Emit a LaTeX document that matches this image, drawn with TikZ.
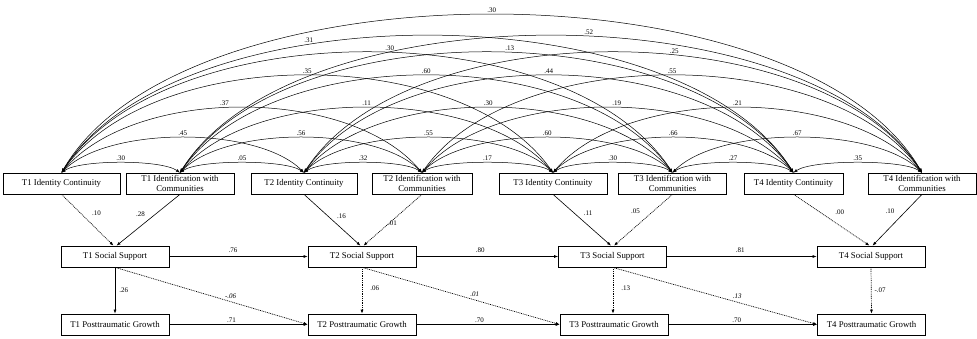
\documentclass[tikz,border=0pt]{standalone}
\usepackage{fontspec}
\setmainfont{Liberation Serif}
\usepackage{tikz}
\usetikzlibrary{arrows.meta}

\tikzset{
  box/.style={draw,line width=.7pt,minimum width=108pt,minimum height=21pt,
    inner sep=1pt,align=center,font=\fontsize{8.8}{10}\selectfont},
  coef/.style={font=\fontsize{7}{8}\selectfont,inner sep=1pt},
  coefit/.style={coef,font=\fontsize{7}{8}\selectfont\itshape},
  reg/.style={->,line width=.6pt},
  nsreg/.style={reg,line width=.7pt,dash pattern=on .9pt off .9pt},
  cov/.style={<->,line width=.5pt},
  bow1/.style={out=35,in=145,distance=23pt},
  bow2/.style={out=45,in=135,distance=66pt},
  bow3/.style={out=50,in=130,distance=113pt},
  bow4/.style={out=55,in=125,distance=158pt},
  bow5/.style={out=57,in=123,distance=191pt},
  bow6/.style={out=58,in=122,distance=215pt},
  bow7/.style={out=60,in=120,distance=243pt}
}

\begin{document}
\begin{tikzpicture}[x=1pt,y=1pt,>={Latex[length=4pt,width=3pt]}]
\useasboundingbox (0,0) rectangle (977,-338);

% predictors
\node at (61.5,-183.5) [box,minimum width=117pt] (IC1) {T1 Identity Continuity};
\node at (180,-183.5) [box] (IdC1) {T1 Identification with\\Communities};
\node at (304,-183.5) [box,minimum width=106pt] (IC2) {T2 Identity Continuity};
\node at (422,-183.5) [box,minimum width=100pt] (IdC2) {T2 Identification with\\Communities};
\node at (553,-183.5) [box] (IC3) {T3 Identity Continuity};
\node at (672.5,-183.5) [box] (IdC3) {T3 Identification with\\Communities};
\node at (793.5,-183.5) [box,minimum width=99pt] (IC4) {T4 Identity Continuity};
\node at (922,-183.5) [box] (IdC4) {T4 Identification with\\Communities};

% social support
\node at (115,-256.5) [box] (SS1) {T1 Social Support};
\node at (362,-256.5) [box] (SS2) {T2 Social Support};
\node at (612.5,-256.5) [box] (SS3) {T3 Social Support};
\node at (871,-256.5) [box] (SS4) {T4 Social Support};

% growth
\node at (115,-324.5) [box] (PTG1) {T1 Posttraumatic Growth};
\node at (362,-324.5) [box] (PTG2) {T2 Posttraumatic Growth};
\node at (614,-324.5) [box] (PTG3) {T3 Posttraumatic Growth};
\node at (871.5,-324.5) [box] (PTG4) {T4 Posttraumatic Growth};

% covariances
\draw[cov] (IC1.north) to[bow1] node[coef,pos=.5,above=1pt] {.30} (IdC1.north);
\draw[cov] (IdC1.north) to[bow1] node[coef,pos=.5,above=1pt] {.05} (IC2.north);
\draw[cov] (IC2.north) to[bow1] node[coef,pos=.5,above=1pt] {.32} (IdC2.north);
\draw[cov] (IdC2.north) to[bow1] node[coef,pos=.5,above=1pt] {.17} (IC3.north);
\draw[cov] (IC3.north) to[bow1] node[coef,pos=.5,above=1pt] {.30} (IdC3.north);
\draw[cov] (IdC3.north) to[bow1] node[coef,pos=.5,above=1pt] {.27} (IC4.north);
\draw[cov] (IC4.north) to[bow1] node[coef,pos=.5,above=1pt] {.35} (IdC4.north);
\draw[cov] (IC1.north) to[bow2] node[coef,pos=.5,above=1pt] {.45} (IC2.north);
\draw[cov] (IdC1.north) to[bow2] node[coef,pos=.5,above=1pt] {.56} (IdC2.north);
\draw[cov] (IC2.north) to[bow2] node[coef,pos=.5,above=1pt] {.55} (IC3.north);
\draw[cov] (IdC2.north) to[bow2] node[coef,pos=.5,above=1pt] {.60} (IdC3.north);
\draw[cov] (IC3.north) to[bow2] node[coef,pos=.5,above=1pt] {.66} (IC4.north);
\draw[cov] (IdC3.north) to[bow2] node[coef,pos=.5,above=1pt] {.67} (IdC4.north);
\draw[cov] (IC1.north) to[bow3] node[coef,pos=.46,above=1pt] {.37} (IdC2.north);
\draw[cov] (IdC1.north) to[bow3] node[coef,pos=.5,above=1pt] {.11} (IC3.north);
\draw[cov] (IC2.north) to[bow3] node[coef,pos=.5,above=1pt] {.30} (IdC3.north);
\draw[cov] (IdC2.north) to[bow3] node[coef,pos=.52,above=1pt] {.19} (IC4.north);
\draw[cov] (IC3.north) to[bow3] node[coef,pos=.5,above=1pt] {.21} (IdC4.north);
\draw[cov] (IC1.north) to[bow4] node[coef,pos=.5,above=1pt] {.35} (IC3.north);
\draw[cov] (IdC1.north) to[bow4] node[coef,pos=.5,above=1pt] {.60} (IdC3.north);
\draw[cov] (IC2.north) to[bow4] node[coef,pos=.5,above=1pt] {.44} (IC4.north);
\draw[cov] (IdC2.north) to[bow4] node[coef,pos=.5,above=1pt] {.55} (IdC4.north);
\draw[cov] (IC1.north) to[bow5] node[coef,pos=.53,above=1pt] {.30} (IdC3.north);
\draw[cov] (IdC1.north) to[bow5] node[coef,pos=.53,above=1pt] {.13} (IC4.north);
\draw[cov] (IC2.north) to[bow5] node[coef,pos=.58,above=1pt] {.25} (IdC4.north);
\draw[cov] (IC1.north) to[bow6] node[coef,pos=.37,above=1pt] {.31} (IC4.north);
\draw[cov] (IdC1.north) to[bow6] node[coef,pos=.54,above=1pt] {.52} (IdC4.north);
\draw[cov] (IC1.north) to[bow7] node[coef,pos=.5,above=1pt] {.30} (IdC4.north);

% predictors -> social support
\draw[nsreg] (IC1.south) -- node[coef,pos=.37,right=10pt] {.10} ([xshift=-1.5pt]SS1.north);
\draw[reg] (IdC1.south) -- node[coef,pos=.39,left=9pt] {.28} ([xshift=1.5pt]SS1.north);
\draw[reg] (IC2.south) -- node[coef,pos=.42,right=8pt] {.16} ([xshift=-1.5pt]SS2.north);
\draw[nsreg] (IdC2.south) -- node[coef,pos=.57,right=-2pt] {.01} ([xshift=1.5pt]SS2.north);
\draw[reg] (IC3.south) -- node[coef,pos=.37,right=8pt] {.11} ([xshift=-1.5pt]SS3.north);
\draw[nsreg] (IdC3.south) -- node[coef,pos=.33,left=12pt] {.05} ([xshift=1.5pt]SS3.north);
\draw[nsreg] (IC4.south) -- node[coef,pos=.35,right=14pt] {.00} ([xshift=-1.5pt]SS4.north);
\draw[reg] (IdC4.south) -- node[coef,pos=.33,left=10pt] {.10} ([xshift=1.5pt]SS4.north);

% stability paths
\draw[reg] (SS1.east) -- node[coef,pos=.46,above=3pt] {.76} (SS2.west);
\draw[reg] (SS2.east) -- node[coef,pos=.45,above=3pt] {.80} (SS3.west);
\draw[reg] (SS3.east) -- node[coef,pos=.49,above=3pt] {.81} (SS4.west);
\draw[reg] (PTG1.east) -- node[coef,pos=.45,above=1pt] {.71} (PTG2.west);
\draw[reg] (PTG2.east) -- node[coef,pos=.44,above=1pt] {.70} (PTG3.west);
\draw[reg] (PTG3.east) -- node[coef,pos=.46,above=1pt] {.70} (PTG4.west);

% social support -> growth
\draw[reg] (SS1.south) -- node[coef,pos=.5,right=3pt] {.26} (PTG1.north);
\draw[nsreg] (SS2.south) -- node[coef,pos=.45,right=7pt] {.06} (PTG2.north);
\draw[nsreg] ([xshift=.5pt]SS3.south) -- node[coef,pos=.45,right=7pt] {.13} ([xshift=-1pt]PTG3.north);
\draw[nsreg] (SS4.south) -- node[coef,pos=.5,right=2pt] {-.07} (PTG4.north);
\draw[nsreg] (SS1.south) -- node[coefit,pos=.6,above=2pt] {-.06} (PTG2.west);
\draw[nsreg] (SS2.south) -- node[coefit,pos=.57,above=2pt] {.01} (PTG3.west);
\draw[nsreg] (SS3.south) -- node[coefit,pos=.61,above=2pt] {.13} (PTG4.west);

\end{tikzpicture}
\end{document}
